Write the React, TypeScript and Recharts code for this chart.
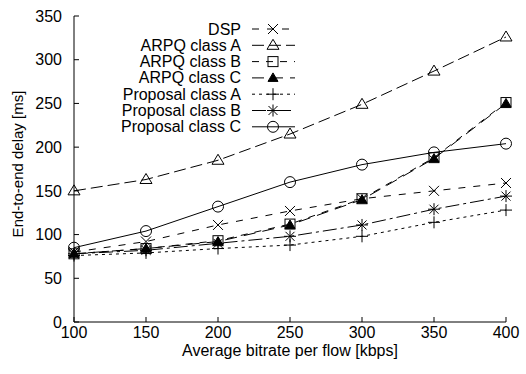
import {
  LineChart,
  Line,
  XAxis,
  YAxis,
  Legend,
} from "recharts";

// values
const bitrates = [100, 150, 200, 250, 300, 350, 400];
const dsp = [80, 92, 111, 127, 141, 150, 159];
const arpqA = [150, 163, 185, 215, 249, 287, 326];
const arpqB = [78, 84, 93, 112, 141, 188, 251];
const arpqC = [78, 84, 92, 111, 140, 187, 250];
const propA = [76, 79, 84, 88, 98, 114, 128];
const propB = [78, 82, 90, 98, 111, 129, 144];
const propC = [85, 104, 132, 160, 180, 194, 204];

const xTicks = [100, 150, 200, 250, 300, 350, 400];
const yTicks = [0, 50, 100, 150, 200, 250, 300, 350];

const data = bitrates.map((b, i) => ({
  bitrate: b,
  dsp: dsp[i],
  arpqA: arpqA[i],
  arpqB: arpqB[i],
  arpqC: arpqC[i],
  propA: propA[i],
  propB: propB[i],
  propC: propC[i],
}));

type Shape = "cross" | "tri" | "square" | "triFill" | "plus" | "star" | "circle";

const series: { key: string; name: string; dash?: string; shape: Shape }[] = [
  { key: "dsp", name: "DSP", dash: "7 8", shape: "cross" },
  { key: "arpqA", name: "ARPQ class A", dash: "12 5", shape: "tri" },
  { key: "arpqB", name: "ARPQ class B", dash: "7 7", shape: "square" },
  { key: "arpqC", name: "ARPQ class C", dash: "12 7", shape: "triFill" },
  { key: "propA", name: "Proposal class A", dash: "3 4", shape: "plus" },
  { key: "propB", name: "Proposal class B", dash: "14 4 3 4", shape: "star" },
  { key: "propC", name: "Proposal class C", shape: "circle" },
];

const FONT = "'Liberation Sans', Arial, Helvetica, sans-serif";

function Marker({ shape, cx, cy }: { shape: Shape; cx: number; cy: number }) {
  const s = 5;
  const common = { stroke: "#000", strokeWidth: 1, fill: "none" };
  switch (shape) {
    case "cross":
      return (
        <path
          {...common}
          d={`M${cx - s},${cy - s}L${cx + s},${cy + s}M${cx - s},${cy + s}L${cx + s},${cy - s}`}
        />
      );
    case "tri":
      return (
        <path {...common} d={`M${cx},${cy - 6}L${cx + 6},${cy + 4}L${cx - 6},${cy + 4}Z`} />
      );
    case "triFill":
      return (
        <path
          stroke="#000"
          fill="#000"
          d={`M${cx},${cy - 5}L${cx + 5},${cy + 3.5}L${cx - 5},${cy + 3.5}Z`}
        />
      );
    case "square":
      return <rect {...common} x={cx - s} y={cy - s} width={2 * s} height={2 * s} />;
    case "plus":
      return (
        <path {...common} d={`M${cx - 6},${cy}L${cx + 6},${cy}M${cx},${cy - 6}L${cx},${cy + 6}`} />
      );
    case "star":
      return (
        <path
          {...common}
          d={`M${cx - 6},${cy}L${cx + 6},${cy}M${cx},${cy - 6}L${cx},${cy + 6}M${cx - 4.5},${cy - 4.5}L${cx + 4.5},${cy + 4.5}M${cx - 4.5},${cy + 4.5}L${cx + 4.5},${cy - 4.5}`}
        />
      );
    default:
      return <circle {...common} cx={cx} cy={cy} r={5.5} />;
  }
}

const dotFor = (shape: Shape) => (p: any) => (
  <g key={`${shape}-${p.index}`}>
    <Marker shape={shape} cx={p.cx} cy={p.cy} />
  </g>
);

function KeyBox() {
  return (
    <svg width={526} height={140} style={{ display: "block" }}>
      {series.map((s, i) => {
        const y = 29 + i * 16.3;
        return (
          <g key={s.key}>
            <text
              x={241}
              y={y}
              textAnchor="end"
              dominantBaseline="central"
              fontSize={16}
              fontFamily={FONT}
              fill="#000"
            >
              {s.name}
            </text>
            <line
              x1={252}
              x2={295}
              y1={y}
              y2={y}
              stroke="#000"
              strokeWidth={1}
              strokeDasharray={s.dash}
            />
            <Marker shape={s.shape} cx={273} cy={y} />
          </g>
        );
      })}
    </svg>
  );
}

export default function App() {
  return (
    <div style={{ position: "absolute", left: 0, top: 0, background: "#fff" }}>
      <LineChart
        width={526}
        height={374}
        data={data}
        margin={{ top: 16, right: 20, left: 24, bottom: 24 }}
        style={{ fontFamily: FONT }}
      >
        <XAxis
          dataKey="bitrate"
          type="number"
          domain={[100, 400]}
          ticks={xTicks}
          height={28}
          stroke="#000"
          tickSize={-5}
          tickMargin={10}
          tick={{ fill: "#000", fontSize: 16 }}
          label={{
            value: "Average bitrate per flow [kbps]",
            position: "insideBottom",
            offset: -6,
            fill: "#000",
            fontSize: 16,
          }}
        />
        <XAxis
          xAxisId="top"
          orientation="top"
          dataKey="bitrate"
          type="number"
          domain={[100, 400]}
          ticks={xTicks}
          height={0}
          stroke="#000"
          tickSize={-5}
          tick={false}
        />
        <YAxis
          type="number"
          domain={[0, 350]}
          ticks={yTicks}
          width={50}
          stroke="#000"
          tickSize={-5}
          tickMargin={17}
          tick={{ fill: "#000", fontSize: 16 }}
          label={{
            content: () => (
              <text
                x={17}
                y={164}
                transform="rotate(-90 17 164)"
                textAnchor="middle"
                dominantBaseline="central"
                fontSize={15}
                fontFamily={FONT}
                fill="#000"
              >
                End-to-end delay [ms]
              </text>
            ),
          }}
        />
        <YAxis
          yAxisId="right"
          orientation="right"
          type="number"
          domain={[0, 350]}
          ticks={yTicks}
          width={0}
          stroke="#000"
          tickSize={-5}
          tick={false}
        />
        <Legend
          layout="horizontal"
          align="center"
          verticalAlign="middle"
          wrapperStyle={{ position: "absolute", left: 0, top: 0, width: 526, pointerEvents: "none" }}
          content={() => <KeyBox />}
        />
        {series.map((s) => (
          <Line
            key={s.key}
            dataKey={s.key}
            name={s.name}
            type="linear"
            stroke="#000"
            strokeWidth={1}
            strokeDasharray={s.dash}
            dot={dotFor(s.shape)}
            activeDot={false}
            isAnimationActive={false}
          />
        ))}
      </LineChart>
    </div>
  );
}
